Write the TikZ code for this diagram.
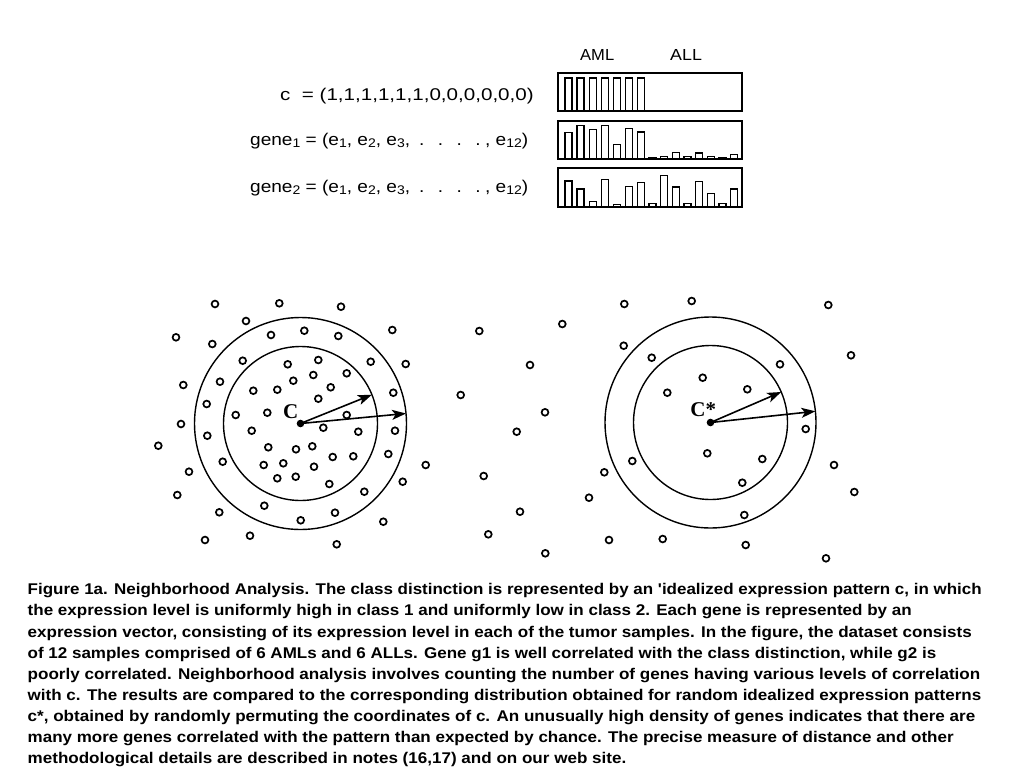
\documentclass[tikz,border=0pt]{standalone}
\usepackage{fontspec}
\setmainfont{Liberation Sans}
\newfontfamily\lserif{Liberation Serif}
\usetikzlibrary{arrows.meta}
\newcommand{\sbs}[1]{\raisebox{-2pt}{\fontsize{12.5}{12.5}\selectfont #1}}
\newcommand{\fitw}[2]{\resizebox{#1pt}{\height}{#2}}
\begin{document}
\begin{tikzpicture}[x=1pt,y=-1pt,
  smalldot/.style={line width=1.7pt},
  ringline/.style={line width=1.4pt},
  vecarrow/.style={line width=1.6pt,-{Stealth[length=14pt,width=10pt,inset=3.5pt]}},
  boxframe/.style={line width=2pt},
  barrect/.style={line width=1.3pt},
  lbltxt/.style={inner sep=0pt,anchor=base west,font=\fontsize{17}{20}\selectfont},
  hdrtxt/.style={inner sep=0pt,anchor=base west,font=\fontsize{16}{18}\selectfont},
  captxt/.style={inner sep=0pt,anchor=base west,font=\fontsize{15.5}{18}\selectfont\bfseries},
  ctrtxt/.style={font=\lserif\bfseries\fontsize{21}{22}\selectfont,inner sep=0pt}]
\useasboundingbox[fill=white] (0,0) rectangle (1024,768);

% ---- top: header and labels
\node[hdrtxt] (aml) at (580,60.7) {\fitw{34}{AML}};
\node[hdrtxt] (all) at (670,60.7) {\fitw{31.7}{ALL}};
\node[lbltxt] (cvec) at (280,100.8) {\fitw{253.5}{c\ \ = (1,1,1,1,1,1,0,0,0,0,0,0)}};
\node[lbltxt] (g1) at (250,145.8) {\fitw{278}{gene\sbs{1} = (e\sbs{1}, e\sbs{2}, e\sbs{3},\hspace{8pt}.\hspace{12pt}.\hspace{12pt}.\hspace{12pt}.\hspace{4pt}, e\sbs{12})}};
\node[lbltxt] (g2) at (250,192.3) {\fitw{278}{gene\sbs{2} = (e\sbs{1}, e\sbs{2}, e\sbs{3},\hspace{8pt}.\hspace{12pt}.\hspace{12pt}.\hspace{12pt}.\hspace{4pt}, e\sbs{12})}};

% ---- bar boxes
\draw[boxframe] (557.7,73) rectangle (741.7,111.3);
\draw[boxframe] (557.7,120.7) rectangle (741.7,159);
\draw[boxframe] (557.7,168) rectangle (741.7,207.3);

\foreach \i in {0,...,6}
  \draw[barrect] ({565+12.07*\i},111.3) rectangle ({572+12.07*\i},78);

\foreach \i/\t in {0/132,1/124.7,2/128.7,3/125,4/143.7,5/128,6/131.3}
  \draw[barrect] ({565+12.07*\i},159) rectangle ({572+12.07*\i},\t+0.6);
\foreach \j/\t in {0/156.7,1/155.7,2/151.7,3/156,4/152.3,5/155.7,7/154}
  \draw[barrect] ({649+11.67*\j},159) rectangle ({656+11.67*\j},\t+0.6);
\fill ({648.3+11.67*6},159) rectangle ({656.7+11.67*6},156.5);

\foreach \i/\t in {0/180.3,1/188.5,2/200.7,3/179,4/204,5/185.8,6/181.7}
  \draw[barrect] ({565+12.07*\i},207.3) rectangle ({572+12.07*\i},\t+0.6);
\foreach \j/\t in {0/203.2,1/174.8,2/186.5,3/203.2,4/181.2,5/193.2,6/203.2,7/188.5}
  \draw[barrect] ({649+11.67*\j},207.3) rectangle ({656+11.67*\j},\t+0.6);

% ---- left neighbourhood (c)
\coordinate (cA) at (300.5,423.5);
\draw[ringline] (cA) circle[radius=77];
\draw[ringline] (cA) circle[radius=106];
\foreach \x/\y in {215/304,279.3/303.3,341/306.7,176/337.3,246/321,271/335,304.3/330.7,338.3/336,392.3/330,
  212.3/344,242.7/360.7,287.7/364.3,318.3/360,370.7/361.7,405.7/364,183.3/385,220/381.7,293.3/380.7,313.3/375,
  346.7/373.3,253.3/390.7,277.3/389.7,330.7/387.3,318.3/398.7,393.3/392.7,206.7/404,235.7/415,267.3/412.7,
  346.7/415,181/424,251.7/430.7,323.3/427.7,358.3/431.7,395/430.7,158.3/445.7,207.3/435.7,268.3/447.3,296/449.3,
  312.3/446.3,388.3/454,425.7/465,189/471.7,222.7/461.7,263.7/465,283.3/463.3,314/466.7,332.7/457,353.3/456.3,
  277.3/478.3,295.7/476.7,329.3/484,402.7/481.7,177.3/495,364.3/491.7,219.3/512.3,264.3/505.7,300.7/520.3,
  335/512.7,383.3/521.7,205/540,250/535.7,336.7/544.3}
  \draw[smalldot] (\x,\y) circle[radius=3.4];
\coordinate (tA1) at (371.9,394.7);
\coordinate (tA2) at (406,413.5);
\draw[vecarrow] (cA) -- (tA1);
\draw[vecarrow] (cA) -- (tA2);
\fill (cA) circle[radius=3.8];
\node[ctrtxt] (lA) at (290.7,411.3) {C};

% ---- middle scatter
\foreach \x/\y in {479.3/331,562.3/324,530/365,460.7/395,545/412.3,516.7/431.7,483.7/476,520/511.7,488.3/534.3,545.3/553.3}
  \draw[smalldot] (\x,\y) circle[radius=3.4];

% ---- right neighbourhood (c*)
\coordinate (cB) at (710.5,422.5);
\draw[ringline] (cB) circle[radius=77];
\draw[ringline] (cB) circle[radius=105.5];
\foreach \x/\y in {624.3/304,691.7/301,828.3/305,623.7/345.7,651.7/357.7,851/355.3,780/364.3,702.7/377.7,
  747.3/389.3,667.3/392.7,805.7/429,707.3/453.3,762.3/459,632.3/461,834/465,604.3/472.3,742.3/482.7,
  589/497.7,854.3/492,744.3/515,609/540,662.7/539,745.7/545,826/558.3}
  \draw[smalldot] (\x,\y) circle[radius=3.4];
\coordinate (tB1) at (781.2,392);
\coordinate (tB2) at (815.4,411.3);
\draw[vecarrow] (cB) -- (tB1);
\draw[vecarrow] (cB) -- (tB2);
\fill (cB) circle[radius=3.8];
\node[ctrtxt] (lB) at (703.3,410) {C*};

% ---- caption
\node[captxt] (cap1) at (27.5,594.8) {\fitw{954}{Figure 1a. Neighborhood Analysis. The class distinction is represented by an \textquotesingle idealized expression pattern c, in which}};
\node[captxt] (cap2) at (27.5,615.9) {\fitw{884}{the expression level is uniformly high in class 1 and uniformly low in class 2. Each gene is represented by an}};
\node[captxt] (cap3) at (27.5,637.0) {\fitw{944}{expression vector, consisting of its expression level in each of the tumor samples. In the figure, the dataset consists}};
\node[captxt] (cap4) at (27.5,658.1) {\fitw{908.5}{of 12 samples comprised of 6 AMLs and 6 ALLs. Gene g1 is well correlated with the class distinction, while g2 is}};
\node[captxt] (cap5) at (27.5,679.2) {\fitw{952.5}{poorly correlated. Neighborhood analysis involves counting the number of genes having various levels of correlation}};
\node[captxt] (cap6) at (27.5,700.3) {\fitw{953.5}{with c. The results are compared to the corresponding distribution obtained for random idealized expression patterns}};
\node[captxt] (cap7) at (27.5,721.4) {\fitw{947.5}{c*, obtained by randomly permuting the coordinates of c. An unusually high density of genes indicates that there are}};
\node[captxt] (cap8) at (27.5,742.5) {\fitw{926}{many more genes correlated with the pattern than expected by chance. The precise measure of distance and other}};
\node[captxt] (cap9) at (27.5,763.6) {\fitw{598.5}{methodological details are described in notes (16,17) and on our web site.}};
\end{tikzpicture}
\end{document}
